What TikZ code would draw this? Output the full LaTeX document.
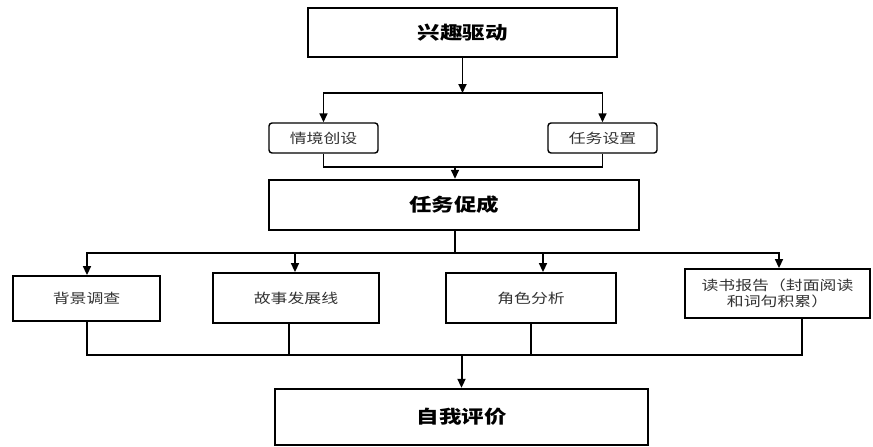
\documentclass[tikz,border=0pt]{standalone}
\usepackage{fontspec}
\newfontfamily\cjk[FakeStretch=1.25]{Noto Sans CJK SC}
\usetikzlibrary{arrows.meta}
\tikzset{
  bigbox/.style={draw=black, line width=2.4pt, minimum width=#1, minimum height=49pt, inner sep=0pt, font=\cjk\fontsize{18}{20}\selectfont\bfseries},
  softbox/.style={draw=black, line width=1.4pt, rounded corners=3pt, minimum width=109pt, minimum height=30pt, inner sep=0pt, text=black!80, font=\cjk\fontsize{13.5}{16}\selectfont},
  subbox/.style={draw=black, line width=1.8pt, inner sep=0pt, text=black!80, font=\cjk\fontsize{13.5}{16}\selectfont, align=center},
  link/.style={draw=black, line width=1.5pt},
  arr/.style={link, -{Triangle[length=9pt,width=8pt]}},
}
\begin{document}
\begin{tikzpicture}[x=1pt,y=-1pt]
\path[fill=white] (0,0) rectangle (873,447);
\useasboundingbox (0,0) rectangle (873,447);
% main boxes
\node[bigbox=309pt] (top) at (462.5,32.5) {兴趣驱动};
\node[bigbox=370pt, minimum height=50pt] (task) at (454,205) {任务促成};
\node[bigbox=373pt, minimum height=56pt] (eval) at (461.5,417) {自我评价};
% second level
\node[softbox] (s1) at (323.5,138) {情境创设};
\node[softbox] (s2) at (602.5,138) {任务设置};
% third level
\node[subbox, minimum width=147pt, minimum height=45pt] (b1) at (86.5,298.5) {背景调查};
\node[subbox, minimum width=166pt, minimum height=50pt] (b2) at (296,298) {故事发展线};
\node[subbox, minimum width=170pt, minimum height=50pt] (b3) at (531,298) {角色分析};
\node[subbox, minimum width=185pt, minimum height=49pt] (b4) at (777.5,293.5) {读书报告（封面阅读\\和词句积累）};
% junctions
\coordinate (j1) at (462.5,93);
\coordinate (j2) at (455,167);
\coordinate (j3) at (455,253);
\coordinate (j4) at (461.5,355);
% top part
\draw[arr, line width=1.8pt] (top.south) -- (j1);
\draw[arr] (j1) -| (s1.north);
\draw[arr] (j1) -| (s2.north);
\draw[link] (s1.south) |- (j2);
\draw[link] (s2.south) |- (j2);
\draw[arr] (j2) -- (j2 |- task.north);
% middle
\draw[link, line width=1.8pt] (j3 |- task.south) -- (j3);
\draw[arr] (j3) -| ([xshift=0.5pt]b1.north);
\draw[arr] (j3) -| ([xshift=-1pt]b2.north);
\draw[arr] (j3) -| ([xshift=12pt]b3.north);
\draw[arr] (j3) -| ([xshift=1.5pt]b4.north);
% bottom
\draw[link] ([xshift=0.5pt]b1.south) |- (j4);
\draw[link] ([xshift=-7pt]b2.south) |- (j4);
\draw[link] (b3.south) |- (j4);
\draw[link] ([xshift=24.5pt]b4.south) |- (j4);
\draw[arr, line width=2pt] (j4) -- (eval.north);
\end{tikzpicture}
\end{document}
